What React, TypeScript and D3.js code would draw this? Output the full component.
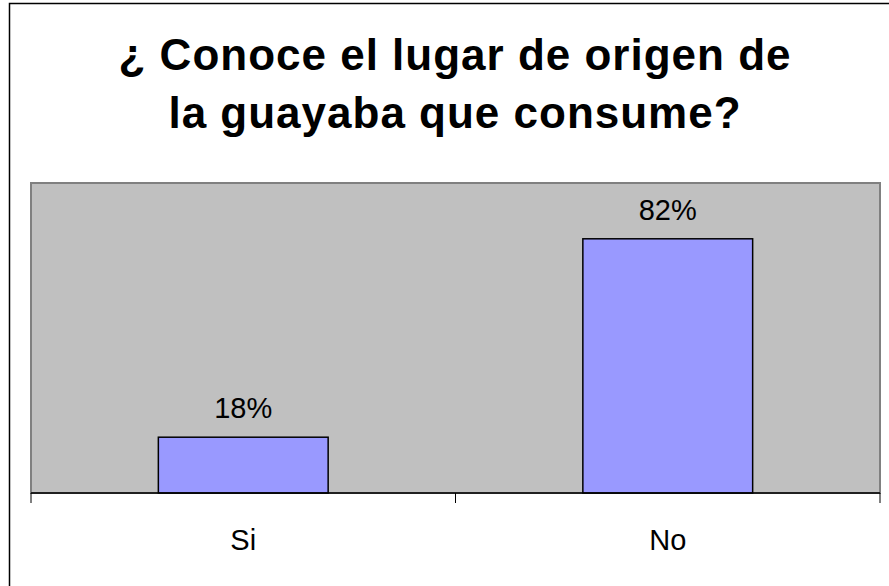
import React from "react";
import * as d3 from "d3";

const categories = ["Si", "No"];
const values = [0.18, 0.82];
const valueLabels = ["18%", "82%"];
const titleLines = ["¿ Conoce el lugar de origen de", "la guayaba que consume?"];

const W = 889;
const H = 586;
const plot = { left: 31, right: 880, top: 183, bottom: 493 };

export default function App() {
  const x = d3
    .scaleBand<string>()
    .domain(categories)
    .range([plot.left, plot.right])
    .paddingInner(0.6)
    .paddingOuter(0.3);
  const y = d3.scaleLinear().domain([0, 1]).range([plot.bottom, plot.top]);
  const step = x.step();
  const tickXs = d3.range(categories.length + 1).map((i) => plot.left + i * step);
  const font = "'Liberation Sans', Arial, Helvetica, sans-serif";

  return (
    <svg
      width={W}
      height={H}
      viewBox={`0 0 ${W} ${H}`}
      style={{ position: "absolute", left: 0, top: 0, background: "#fff" }}
    >
      <rect x={9.5} y={3.5} width={W + 20} height={H + 20} fill="#fff" stroke="#000" strokeWidth={1.5} />
      {titleLines.map((t, i) => (
        <text
          key={i}
          x={455}
          y={70 + i * 58}
          textAnchor="middle"
          fontFamily={font}
          fontWeight="bold"
          fontSize={44}
          letterSpacing={1}
          fill="#000"
        >
          {t}
        </text>
      ))}
      <rect
        x={plot.left}
        y={plot.top}
        width={plot.right - plot.left}
        height={plot.bottom - plot.top}
        fill="#C0C0C0"
        stroke="#808080"
        strokeWidth={2}
      />
      {categories.map((c, i) => (
        <rect
          key={c}
          x={x(c)!}
          y={y(values[i])}
          width={x.bandwidth()}
          height={y(0) - y(values[i])}
          fill="#9999FF"
          stroke="#000"
          strokeWidth={1.5}
        />
      ))}
      <line x1={plot.left} x2={plot.right} y1={plot.bottom} y2={plot.bottom} stroke="#000" strokeWidth={1.5} />
      {tickXs.map((tx, i) => (
        <line key={i} x1={tx} x2={tx} y1={plot.bottom} y2={plot.bottom + 10} stroke="#000" strokeWidth={1} />
      ))}
      {categories.map((c, i) => (
        <text
          key={"v" + c}
          x={x(c)! + x.bandwidth() / 2}
          y={y(values[i]) - 19}
          textAnchor="middle"
          fontFamily={font}
          fontSize={29}
          fill="#000"
        >
          {valueLabels[i]}
        </text>
      ))}
      {categories.map((c) => (
        <text
          key={"c" + c}
          x={x(c)! + x.bandwidth() / 2}
          y={550}
          textAnchor="middle"
          fontFamily={font}
          fontSize={29}
          fill="#000"
        >
          {c}
        </text>
      ))}
    </svg>
  );
}
